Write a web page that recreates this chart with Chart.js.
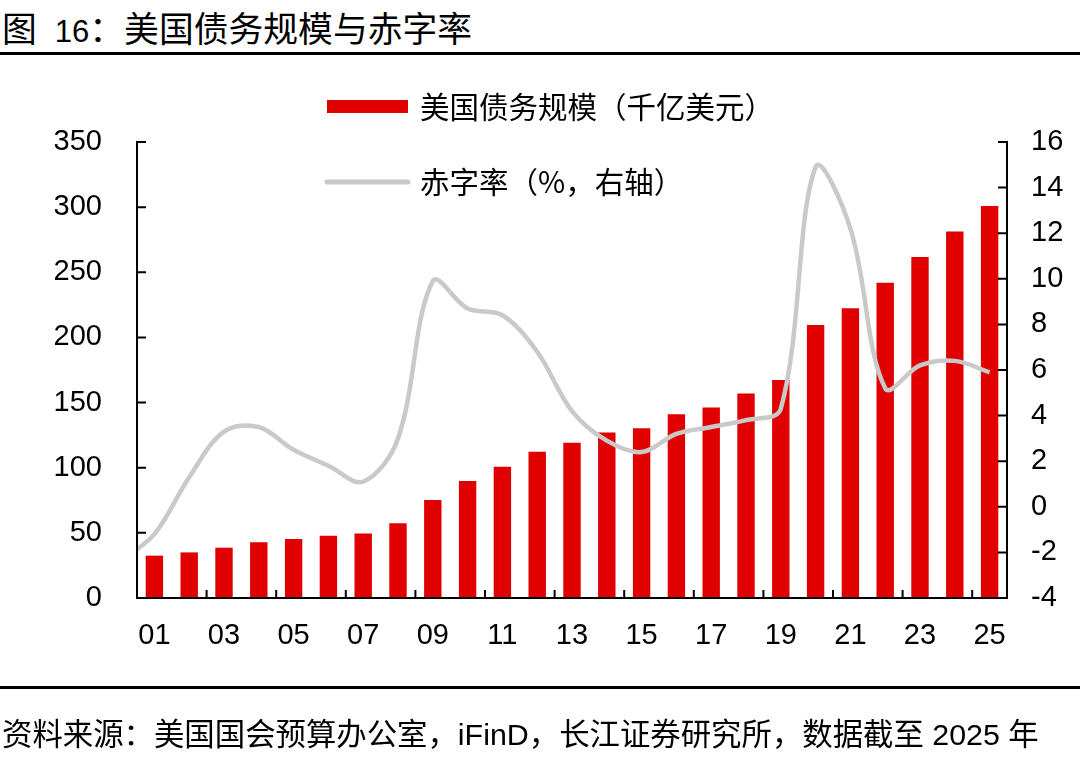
<!DOCTYPE html>
<html lang="zh">
<head>
<meta charset="UTF-8">
<title>美国债务规模与赤字率</title>
<script src="https://cdn.jsdelivr.net/npm/chart.js"></script>
<style>
  body {
    margin: 0;
    width: 1080px;
    height: 767px;
    background: #fff;
    position: relative;
    overflow: hidden;
    font-family: "Liberation Sans", "Noto Sans CJK SC", sans-serif;
    color: #000;
  }
  #chart {
    position: absolute;
    left: 0;
    top: 0;
  }
  .rule {
    position: absolute;
    left: 0;
    width: 1080px;
    height: 3px;
    background: #000;
  }
  #title {
    position: absolute;
    left: 2px;
    top: 10px;
    font-size: 34.8px;
    line-height: 34px;
    white-space: nowrap;
    font-family: "Noto Sans CJK SC", sans-serif;
  }
  #title .num {
    font-family: "Liberation Sans", sans-serif;
    font-size: 31px;
    margin-left: 18px;
  }
  #title .colon {
    margin-right: 0;
  }
  #source {
    position: absolute;
    left: 2px;
    top: 719px;
    font-size: 30.4px;
    line-height: 30px;
    white-space: nowrap;
  }
</style>
</head>
<body>

<div id="title">图<span class="num">16</span><span class="colon">：</span>美国债务规模与赤字率</div>
<div class="rule" style="top:52px"></div>
<canvas id="chart" width="1080" height="767"></canvas>
<div class="rule" style="top:686px"></div>
<div id="source">资料来源：美国国会预算办公室，iFinD，长江证券研究所，数据截至 2025 年</div>

<script>
  // years (00 only feeds the start of the line, it sits left of the axis)
  const years = ['00', '01', '02', '03', '04', '05', '06', '07', '08', '09', '10', '11', '12',
    '13', '14', '15', '16', '17', '18', '19', '20', '21', '22', '23', '24', '25'];

  // 美国债务规模，千亿美元
  const debt = [null, 32.5, 35, 38.6, 42.7, 45.3, 47.8, 49.6, 57.3, 75.2, 89.8, 100.8, 112.3,
    119.2, 127, 130.2, 141, 146.3, 157, 167.3, 209.5, 222.3, 242, 261.7, 281.4, 300.8];

  // 赤字率 %
  const deficit = [-2.4, -1.2, 1.3, 3.3, 3.5, 2.5, 1.8, 1.1, 3.0, 9.9, 8.7, 8.4, 6.8,
    4.2, 2.9, 2.4, 3.2, 3.5, 3.8, 4.3, 14.9, 12.2, 5.2, 6.2, 6.4, 5.9];

  const debtLabel = '美国债务规模（千亿美元）';
  const deficitLabel = '赤字率（%，右轴）';

  const leftTicks = {min: 0, max: 350, step: 50};
  const rightTicks = {min: -4, max: 16, step: 2};

  const RED = '#E00000';
  const GREY = '#C9C9C9';
  const tickFont = {family: '"Liberation Sans", Arial, sans-serif', size: 29};

  // little inward tick marks, like the original Excel axes
  const tickMarks = {
    id: 'tickMarks',
    afterDatasetsDraw(chart) {
      const {ctx, chartArea: a, scales} = chart;
      ctx.save();
      ctx.strokeStyle = '#000';
      ctx.lineWidth = 2;
      ctx.beginPath();
      scales.y.ticks.forEach(t => {
        const p = scales.y.getPixelForValue(t.value);
        ctx.moveTo(a.left, p);
        ctx.lineTo(a.left + 9, p);
      });
      scales.y1.ticks.forEach(t => {
        const p = scales.y1.getPixelForValue(t.value);
        ctx.moveTo(a.right - 9, p);
        ctx.lineTo(a.right, p);
      });
      for (let i = 3; i < years.length; i += 2) {
        const p = (scales.x.getPixelForValue(i - 1) + scales.x.getPixelForValue(i)) / 2;
        ctx.moveTo(p, a.bottom);
        ctx.lineTo(p, a.bottom - 8);
      }
      ctx.stroke();
      ctx.restore();
    }
  };

  // legend stacked top-left inside the plot
  const legendBox = {
    id: 'legendBox',
    afterDraw(chart) {
      const ctx = chart.ctx;
      const bar = chart.data.datasets.find(d => d.type === 'bar');
      const line = chart.data.datasets.find(d => d.type === 'line');
      ctx.save();
      ctx.font = '29.5px "Noto Sans CJK SC"';
      ctx.textBaseline = 'middle';
      ctx.textAlign = 'left';

      ctx.fillStyle = bar.backgroundColor;
      ctx.fillRect(327, 100, 81, 13);
      ctx.fillStyle = '#000';
      ctx.fillText(bar.label, 420, 107);

      ctx.strokeStyle = line.borderColor;
      ctx.lineWidth = 5;
      ctx.lineCap = 'round';
      ctx.beginPath();
      ctx.moveTo(327, 182);
      ctx.lineTo(408, 182);
      ctx.stroke();
      ctx.fillStyle = '#000';
      ctx.fillText(line.label, 420, 182);
      ctx.restore();
    }
  };

  new Chart(document.getElementById('chart'), {
    data: {
      labels: years,
      datasets: [
        {
          type: 'line',
          label: deficitLabel,
          data: deficit,
          yAxisID: 'y1',
          borderColor: GREY,
          borderWidth: 4.5,
          pointRadius: 0,
          tension: 0.35,
          clip: {left: 0, top: 10, right: 10, bottom: 10},
          order: 0
        },
        {
          type: 'bar',
          label: debtLabel,
          data: debt,
          yAxisID: 'y',
          backgroundColor: RED,
          categoryPercentage: 1,
          barPercentage: 0.5,
          order: 1
        }
      ]
    },
    options: {
      responsive: false,
      animation: false,
      devicePixelRatio: 1,
      layout: {padding: {top: 142, bottom: 109, left: 0, right: 0}},
      elements: {line: {capBezierPoints: false}},
      plugins: {
        legend: {display: false},
        tooltip: {enabled: false}
      },
      scales: {
        x: {
          type: 'category',
          min: '01',
          offset: true,
          grid: {display: false, drawTicks: false},
          border: {display: true, color: '#000', width: 2, z: 1},
          ticks: {
            autoSkip: false,
            maxRotation: 0,
            padding: 21,
            color: '#000',
            font: tickFont,
            callback: v => (v % 2 === 1 ? years[v] : '')
          },
          afterFit: s => { s.height = 60; }
        },
        y: {
          position: 'left',
          min: leftTicks.min,
          max: leftTicks.max,
          grid: {display: false, drawTicks: false},
          border: {display: true, color: '#000', width: 2, z: 1},
          ticks: {stepSize: leftTicks.step, padding: 35, color: '#000', font: tickFont},
          afterFit: s => { s.width = 137; }
        },
        y1: {
          position: 'right',
          min: rightTicks.min,
          max: rightTicks.max,
          grid: {display: false, drawTicks: false},
          border: {display: true, color: '#000', width: 2, z: 1},
          ticks: {stepSize: rightTicks.step, padding: 24, color: '#000', font: tickFont},
          afterFit: s => { s.width = 73; }
        }
      }
    },
    plugins: [tickMarks, legendBox]
  });
</script>
</body>
</html>
